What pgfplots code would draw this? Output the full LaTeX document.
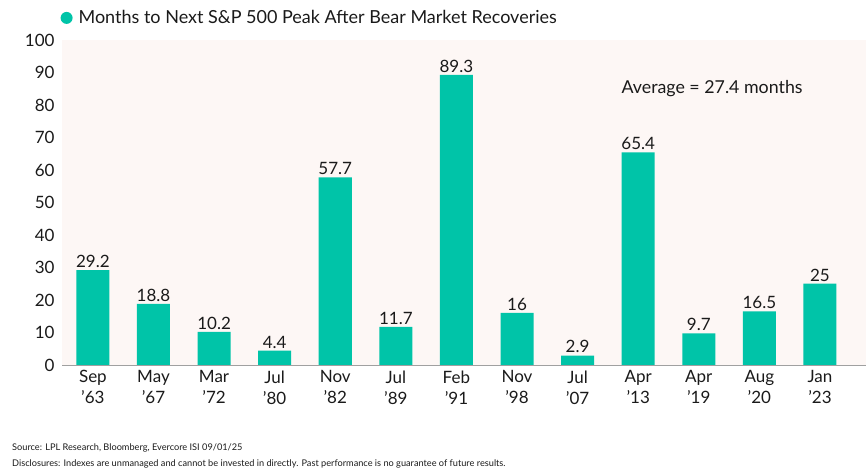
\documentclass[border=0pt]{standalone}
\usepackage{pgfplots}
\pgfplotsset{compat=1.18}
\usepackage{fontspec}
\setmainfont{Lato}
\definecolor{teal}{HTML}{00C4A8}
\definecolor{bgpink}{HTML}{FDF7F5}
\definecolor{axgray}{HTML}{A0A0A0}
\definecolor{txt}{HTML}{1A1A1A}
\begin{document}
\begin{tikzpicture}
\path[use as bounding box] (0,0) rectangle (866bp,475bp);
\begin{axis}[
  at={(62bp,110bp)}, anchor=south west,
  scale only axis, width=804bp, height=325bp,
  xmin=-0.51, xmax=12.76, ymin=0, ymax=100,
  axis background/.style={fill=bgpink},
  axis x line=bottom, axis y line=left,
  x axis line style={draw=axgray, line width=1pt, -},
  y axis line style={draw=none},
  major tick length=0,
  ytick={0,10,...,100},
  xtick={0,...,12},
  xticklabels={{Sep\\'63},{May\\'67},{Mar\\'72},{Jul\\'80},{Nov\\'82},{Jul\\'89},{Feb\\'91},{Nov\\'98},{Jul\\'07},{Apr\\'13},{Apr\\'19},{Aug\\'20},{Jan\\'23}},
  xticklabel style={align=center, font=\fontsize{17bp}{21bp}\selectfont, text=txt, yshift=-2bp},
  yticklabel style={font=\fontsize{17bp}{20bp}\selectfont, text=txt, xshift=-4bp},
  /pgf/number format/assume math mode=true,
  ybar, bar width=0.545,
  nodes near coords,
  every node near coord/.append style={font=\fontsize{17bp}{20bp}\selectfont, text=txt, yshift=-1bp},
  point meta=explicit symbolic,
  legend style={at={(rel axis cs:-0.002,1.068)}, anchor=west, draw=none, fill=none,
    font=\fontsize{18bp}{21bp}\selectfont, text=txt, inner sep=0pt},
  legend image code/.code={\fill[teal] (0.1cm,0cm) circle (6bp);},
]
\addplot[fill=teal, draw=none] table[meta=lab] {
x y lab
0 29.2 29.2
1 18.8 18.8
2 10.2 10.2
3 4.4 4.4
4 57.7 57.7
5 11.7 11.7
6 89.3 89.3
7 16 16
8 2.9 2.9
9 65.4 65.4
10 9.7 9.7
11 16.5 16.5
12 25 25
};
\addlegendentry{\hspace{4bp}Months to Next S\&P 500 Peak After Bear Market Recoveries}
\node[font=\fontsize{17.8bp}{20bp}\selectfont, text=txt] at (axis cs:10.22,85) {Average = 27.4 months};
\end{axis}
\node[anchor=west, font=\fontsize{9.2bp}{11bp}\selectfont, text=txt, inner sep=0pt] at (12bp,27bp) {Source: LPL Research, Bloomberg, Evercore ISI 09/01/25};
\node[anchor=west, font=\fontsize{9.2bp}{11bp}\selectfont, text=txt, inner sep=0pt] at (12bp,11bp) {Disclosures: Indexes are unmanaged and cannot be invested in directly. Past performance is no guarantee of future results.};
\end{tikzpicture}
\end{document}
